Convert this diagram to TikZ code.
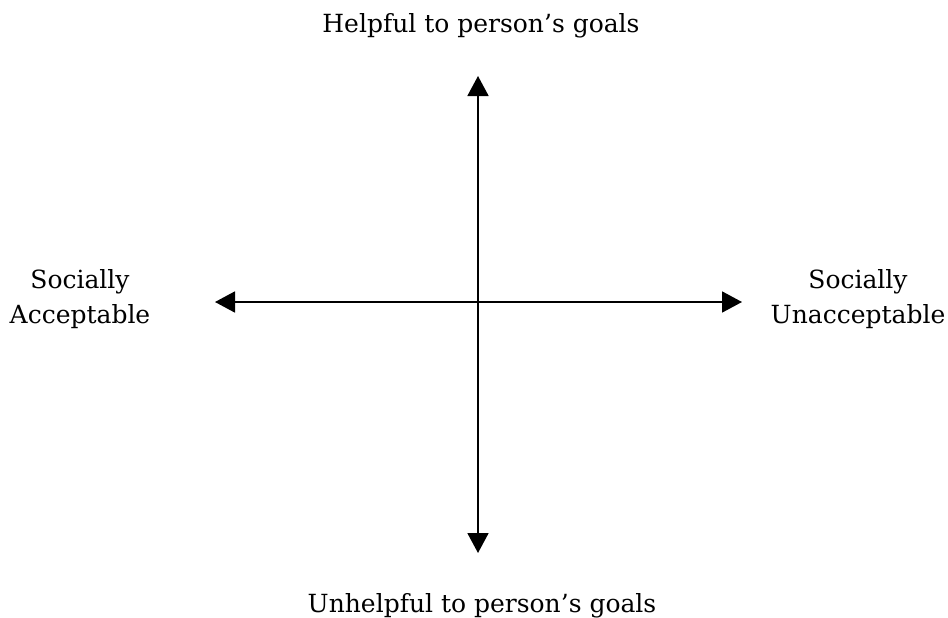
\documentclass[tikz,border=0pt]{standalone}
\usepackage{fontspec}
\setmainfont{DejaVu Serif}
\usepackage{tikz}
\usetikzlibrary{arrows.meta}

\begin{document}
\begin{tikzpicture}[x=1pt,y=-1pt,>={Triangle[length=20pt,width=21pt]},
  axis/.style={<->,line width=1.8pt},
  label/.style={font=\fontsize{25}{35}\selectfont,inner sep=0pt,align=center}]
\useasboundingbox (0,0) rectangle (948,618);
\coordinate (top) at (478,76);
\coordinate (bottom) at (478,553);
\coordinate (left) at (215,302);
\coordinate (right) at (742,302);
\draw[axis] (top)--(bottom);
\draw[axis] (left)--(right);
\node[label,anchor=base] (helpful) at (481,33) {Helpful to person’s goals};
\node[label,anchor=base] (unhelpful) at (482,612) {Unhelpful to person’s goals};
\node[label] (acceptable) at (80,299) {Socially\\Acceptable};
\node[label] (unacceptable) at (858,299) {Socially\\Unacceptable};
\end{tikzpicture}
\end{document}
